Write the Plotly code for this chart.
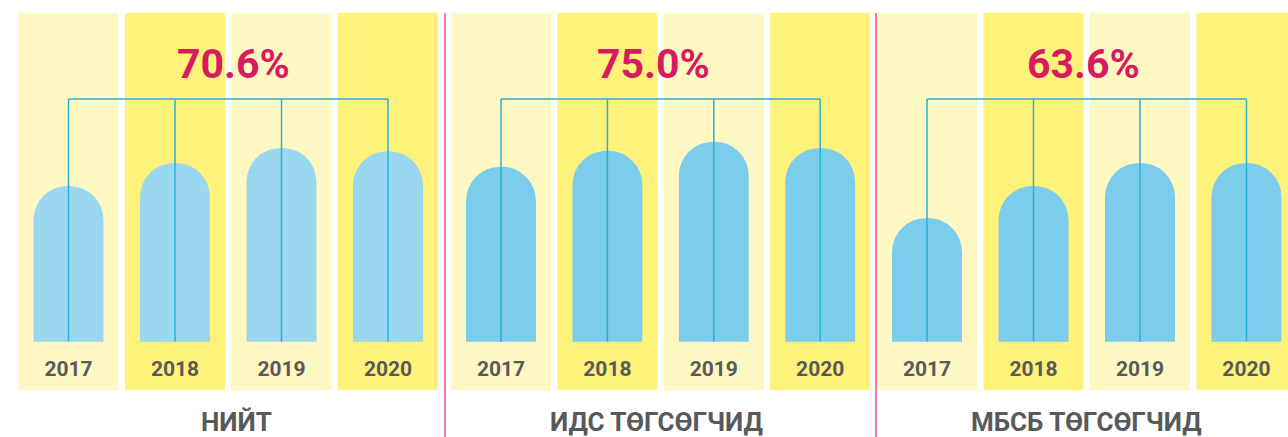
import plotly.graph_objects as go

years = ["2017", "2018", "2019", "2020"]
groups = ["НИЙТ", "ИДС ТӨГСӨГЧИД", "МБСБ ТӨГСӨГЧИД"]
totals = ["70.6%", "75.0%", "63.6%"]
niit = [61.1, 70.1, 76.0, 74.7]
ids = [68.6, 74.9, 78.4, 76.0]
mbsb = [48.5, 61.1, 70.1, 70.1]
series = [niit, ids, mbsb]

W, H = 1288, 437
bar_colors = ["#9AD8F0", "#7BCDEB", "#7BCDEB"]
bg_colors = ["#FFF8C2", "#FFF27A", "#FFF8C2", "#FFF27A"]
line_color = "#2BAFD8"
gray = "#58595B"
pink = "#D81B60"

# x domains in px (left, right) and range end per group
domains = [(15.25, 441.25, 3.5), (447.8, 873.4, 3.5), (873.75, 1288, 3.39)]
title_shift = [5, -7, -3]
bracket_y = 95.2

def ax_name(n):
    return "x" if n == 1 else f"x{n}"

fig = go.Figure()
for i, vals in enumerate(series):
    xb = ax_name(i + 1)   # background columns
    xf = ax_name(i + 4)   # bars drawn on an overlaying axis (keeps rounded tops)
    fig.add_trace(go.Bar(
        x=years, y=[148] * 4, base=-19, width=0.94,
        marker=dict(color=bg_colors, line_width=0),
        xaxis=xb, yaxis="y", hoverinfo="skip", showlegend=False
    ))
    fig.add_trace(go.Bar(
        x=years, y=vals, width=0.657,
        marker=dict(color=bar_colors[i], line_width=0, cornerradius="50%"),
        xaxis=xf, yaxis="y", showlegend=False
    ))
    # bracket: horizontal bar over the columns, drops to each column base
    bx, by = [years[0], years[-1], None], [bracket_y, bracket_y, None]
    for yr in years:
        bx += [yr, yr, None]
        by += [bracket_y, 0, None]
    fig.add_trace(go.Scatter(
        x=bx, y=by, mode="lines", line=dict(color=line_color, width=1.5),
        xaxis=xf, yaxis="y", hoverinfo="skip", showlegend=False
    ))
    fig.add_trace(go.Scatter(
        x=years, y=[-11.4] * 4, mode="text", text=years,
        textfont=dict(family="Roboto", size=21, color=gray, weight="bold"),
        xaxis=xf, yaxis="y", hoverinfo="skip", showlegend=False
    ))
    fig.add_annotation(
        x=1.5, y=108.9, xref=xb, yref="y", text=totals[i], showarrow=False,
        xshift=title_shift[i], yanchor="middle",
        font=dict(family="Roboto", size=41, color=pink, weight="bold")
    )
    fig.add_annotation(
        x=1.5, y=-31.6, xref=xb, yref="y", text=groups[i], showarrow=False,
        xshift=title_shift[i] + 3, yanchor="middle",
        font=dict(family="Roboto", size=26, color=gray, weight="bold")
    )
    d0, d1, r1 = domains[i]
    common = dict(domain=[d0 / W, d1 / W], range=[-0.5, r1], type="category",
                  categoryorder="array", categoryarray=years,
                  visible=False, fixedrange=True, anchor="y")
    fig.update_layout(**{
        ("xaxis" if i == 0 else f"xaxis{i + 1}"): common,
        f"xaxis{i + 4}": dict(common, overlaying=xb),
    })

for px in (445, 876):
    fig.add_shape(type="line", xref="paper", yref="y", x0=px / W, x1=px / W,
                  y0=128.9, y1=-37.4, line=dict(color="#E9508A", width=1.5))

fig.update_layout(
    width=W, height=H,
    margin=dict(l=0, r=0, t=0, b=0),
    barmode="overlay",
    plot_bgcolor="white", paper_bgcolor="white",
    yaxis=dict(range=[-37.37, 134.0], visible=False, fixedrange=True),
    showlegend=False,
)
fig.write_html("out.html", config={"displayModeBar": False},
               post_script="document.body.style.margin='0';")
